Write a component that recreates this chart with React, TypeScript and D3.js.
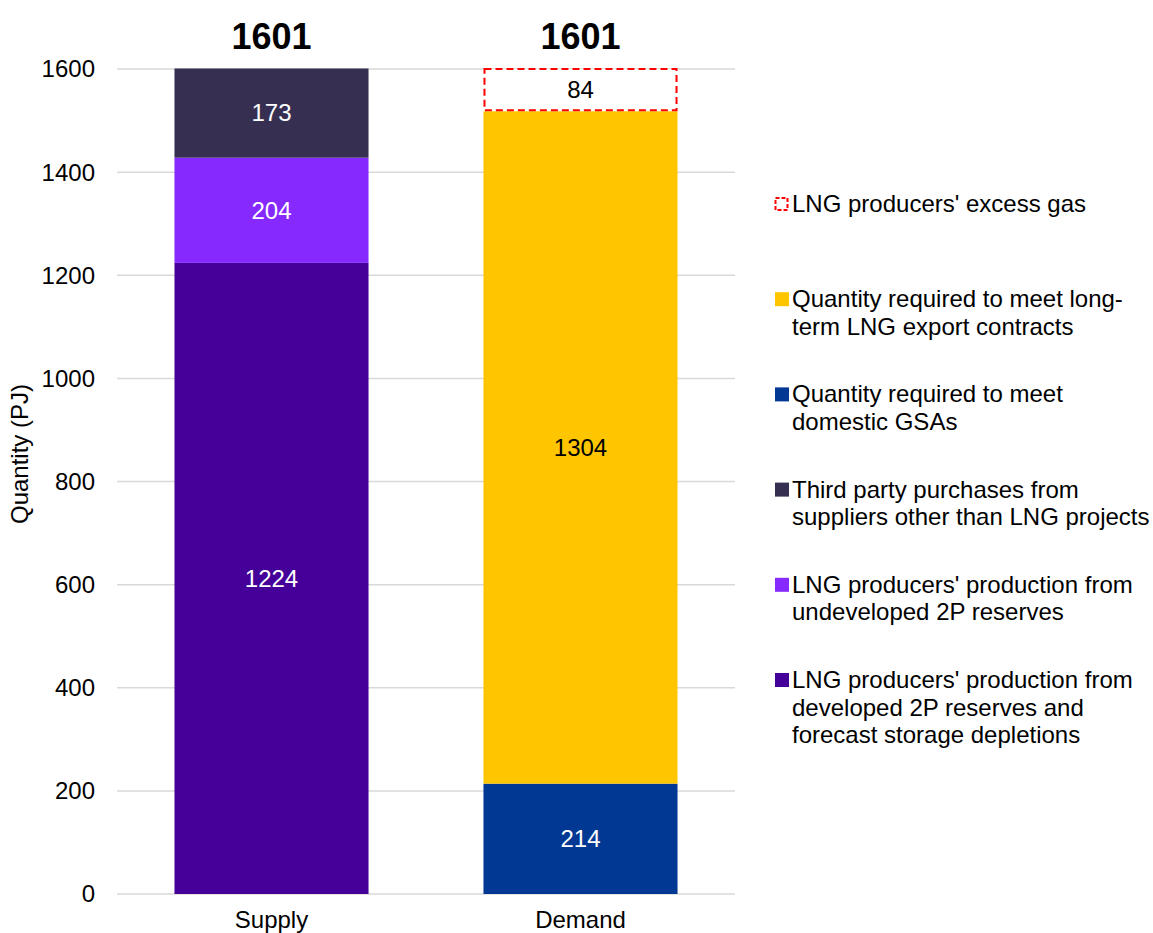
import React from "react";
import * as d3 from "d3";

const categories = ["Supply", "Demand"];
const yTicks = [0, 200, 400, 600, 800, 1000, 1200, 1400, 1600];
const totals = [1601, 1601];

// stack order (bottom to top)
const seriesKeys = ["developed", "undeveloped", "thirdParty", "domestic", "export", "excess"];
const developed = [1224, 0];
const undeveloped = [204, 0];
const thirdParty = [173, 0];
const domestic = [0, 214];
const exportLng = [0, 1304];
const excess = [0, 84];

const colors: Record<string, string> = {
  developed: "#440099",
  undeveloped: "#8529FF",
  thirdParty: "#372F52",
  domestic: "#003893",
  export: "#FFC600",
  excess: "none",
};
const labelColors: Record<string, string> = {
  developed: "#FFFFFF",
  undeveloped: "#FFFFFF",
  thirdParty: "#FFFFFF",
  domestic: "#FFFFFF",
  export: "#000000",
  excess: "#000000",
};

// legend order (top to bottom)
const legendItems: { key: string; lines: string[] }[] = [
  { key: "excess", lines: ["LNG producers' excess gas"] },
  { key: "export", lines: ["Quantity required to meet long-", "term LNG export contracts"] },
  { key: "domestic", lines: ["Quantity required to meet", "domestic GSAs"] },
  { key: "thirdParty", lines: ["Third party purchases from", "suppliers other than LNG projects"] },
  { key: "undeveloped", lines: ["LNG producers' production from", "undeveloped 2P reserves"] },
  { key: "developed", lines: ["LNG producers' production from", "developed 2P reserves and", "forecast storage depletions"] },
];

const FONT = "'Liberation Sans', Arial, sans-serif";

export default function App() {
  const W = 1153;
  const H = 933;
  const table = categories.map((c, i) => ({
    category: c,
    developed: developed[i],
    undeveloped: undeveloped[i],
    thirdParty: thirdParty[i],
    domestic: domestic[i],
    export: exportLng[i],
    excess: excess[i],
  }));
  const stacked = d3.stack<any>().keys(seriesKeys)(table);

  const x = d3
    .scaleBand<string>()
    .domain(categories)
    .range([117, 735])
    .paddingInner(0.372)
    .paddingOuter(0.186);
  const y = d3.scaleLinear().domain([0, 1600]).range([894, 69]);

  return (
    <svg width={W} height={H} style={{ position: "absolute", left: 0, top: 0, background: "#fff" }} fontFamily={FONT}>
      <rect x={0} y={0} width={W} height={H} fill="#fff" />
      {yTicks.map((t) => (
        <g key={t}>
          <line x1={117} x2={735} y1={y(t)} y2={y(t)} stroke="#D9D9D9" strokeWidth={1.5} />
          <text x={95} y={y(t)} dy="0.35em" textAnchor="end" fontSize={24} fill="#000">
            {t}
          </text>
        </g>
      ))}
      <text
        transform={`translate(28,454) rotate(-90)`}
        textAnchor="middle"
        fontSize={24}
        fill="#000"
      >
        Quantity (PJ)
      </text>
      {stacked.map((s) =>
        s.map((d, i) => {
          const v = d[1] - d[0];
          if (v <= 0) return null;
          const bx = x(categories[i])!;
          const bw = x.bandwidth();
          const y0 = y(d[0]);
          const y1 = y(d[1]);
          const isExcess = s.key === "excess";
          return (
            <g key={s.key + i}>
              {isExcess ? (
                <rect
                  x={bx + 1}
                  y={y1 + 1}
                  width={bw - 2}
                  height={y0 - y1 - 2}
                  fill="#fff"
                  stroke="#FF0000"
                  strokeWidth={2}
                  strokeDasharray="7,4"
                />
              ) : (
                <rect x={bx} y={y1} width={bw} height={y0 - y1} fill={colors[s.key]} />
              )}
              <text
                x={bx + bw / 2}
                y={(y0 + y1) / 2}
                dy="0.35em"
                textAnchor="middle"
                fontSize={24}
                fill={labelColors[s.key]}
              >
                {v}
              </text>
            </g>
          );
        })
      )}
      {categories.map((c, i) => (
        <g key={c}>
          <text x={x(c)! + x.bandwidth() / 2} y={49} textAnchor="middle" fontSize={36} fontWeight="bold" fill="#000">
            {totals[i]}
          </text>
          <text x={x(c)! + x.bandwidth() / 2} y={928} textAnchor="middle" fontSize={24} fill="#000">
            {c}
          </text>
        </g>
      ))}
      {legendItems.map((item, i) => {
        const base = 212 + i * 95.2;
        return (
          <g key={item.key}>
            {item.key === "excess" ? (
              <rect
                x={775.5}
                y={base - 14}
                width={12}
                height={12}
                fill="none"
                stroke="#FF0000"
                strokeWidth={2}
                strokeDasharray="4,2"
              />
            ) : (
              <rect x={775} y={base - 15} width={14} height={14} fill={colors[item.key]} />
            )}
            {item.lines.map((l, j) => (
              <text key={j} x={792} y={base + j * 27.5} fontSize={24} fill="#000">
                {l}
              </text>
            ))}
          </g>
        );
      })}
    </svg>
  );
}
